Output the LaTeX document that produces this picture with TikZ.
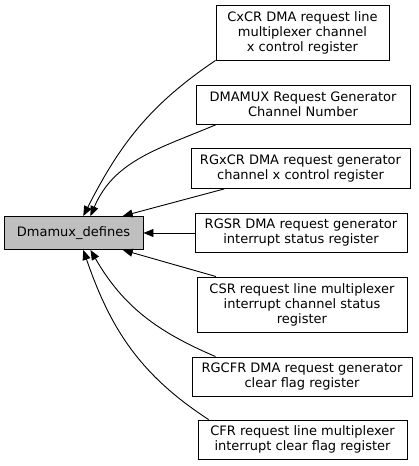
\documentclass[tikz,border=0pt]{standalone}
\usepackage{fontspec}
\usepackage{xcolor}
\usepackage{tikz}
\usetikzlibrary{arrows.meta, positioning}
\setmainfont{DejaVu Sans}
\definecolor{groupgray}{RGB}{191, 191, 191}
\definecolor{edgeblack}{RGB}{0, 0, 0}

\begin{document}
\begin{tikzpicture}[x=1pt, y=1pt,
    regbox/.style={draw, line width=0.9pt, fill=white, align=center, inner sep=0pt,
                   font=\fontsize{13pt}{15pt}\selectfont},
    groupbox/.style={regbox, fill=groupgray},
    dep/.style={draw=edgeblack, line width=0.9pt, -{Triangle[length=10pt, width=8pt]}}]
    \useasboundingbox (0,0) rectangle (419,466);

    % the group and its members
    \node[groupbox, minimum width=139pt, minimum height=33pt] (dmamux) at (73.5,233) {Dmamux\_defines};
    \node[regbox, minimum width=173pt, minimum height=55pt] (cxcr) at (302.5,433.5)
        {CxCR DMA request line\\multiplexer channel\\x control register};
    \node[regbox, minimum width=214pt, minimum height=39pt] (rgchan) at (303,361.5)
        {DMAMUX Request Generator\\Channel Number};
    \node[regbox, minimum width=219pt, minimum height=40pt] (rgxcr) at (300.5,297.5)
        {RGxCR DMA request generator\\channel x control register};
    \node[regbox, minimum width=212pt, minimum height=39pt] (rgsr) at (301,233)
        {RGSR DMA request generator\\interrupt status register};
    \node[regbox, minimum width=210pt, minimum height=55pt] (csr) at (302,161.5)
        {CSR request line multiplexer\\interrupt channel status\\register};
    \node[regbox, minimum width=220pt, minimum height=39pt] (rgcfr) at (302,89.5)
        {RGCFR DMA request generator\\clear flag register};
    \node[regbox, minimum width=209pt, minimum height=39pt] (cfr) at (302.5,26.5)
        {CFR request line multiplexer\\interrupt clear flag register};

    % links back to the group
    \draw[dep] (cxcr.south west) to[out=214, in=63] (dmamux.60);
    \draw[dep] (rgchan.193) to[out=203, in=67] (dmamux.45);
    \draw[dep] (rgxcr.195) -- (dmamux.19);
    \draw[dep] (rgsr.west) -- (dmamux.east);
    \draw[dep] (csr.162) -- (dmamux.-19);
    \draw[dep] (rgcfr.167) to[out=157, in=-60] (dmamux.-45);
    \draw[dep] (cfr.168) to[out=147, in=-71] (dmamux.-60);
\end{tikzpicture}
\end{document}
